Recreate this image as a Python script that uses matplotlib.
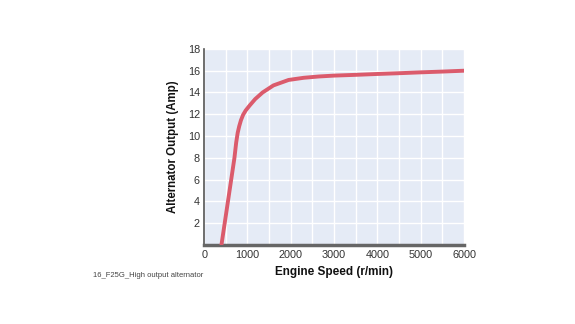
import matplotlib.pyplot as plt

# Alternator output vs engine speed
engine_speed = [400, 550, 700, 740, 775, 810, 850, 900, 960, 1050, 1180,
                1350, 1600, 1950, 2300, 2650, 3000, 3500, 4000, 4500, 5000,
                5500, 6000]
output_amp = [0.0, 4.0, 8.0, 9.4, 10.3, 10.9, 11.45, 11.95, 12.35, 12.8, 13.4,
              14.0, 14.65, 15.15, 15.35, 15.47, 15.55, 15.62, 15.7, 15.77,
              15.85, 15.92, 16.0]

x_ticks = [0, 1000, 2000, 3000, 4000, 5000, 6000]
y_ticks = [2, 4, 6, 8, 10, 12, 14, 16, 18]

plt.rcParams["font.family"] = ["Liberation Sans", "DejaVu Sans"]

fig = plt.figure(figsize=(5.75, 3.24), dpi=100)
ax = fig.add_axes([0.355, 0.244, 0.452, 0.605])
ax.set_facecolor("#e5ebf6")

ax.plot(engine_speed, output_amp, color="#db5b6c", linewidth=2.8,
        solid_joinstyle="round", zorder=3)

ax.set_xlim(0, 6000)
ax.set_ylim(0, 18)
ax.set_xticks(x_ticks)
ax.set_yticks(y_ticks)
ax.set_xticks(range(500, 6000, 1000), minor=True)
ax.grid(True, which="major", color="white", linewidth=1.0)
ax.xaxis.grid(True, which="minor", color="white", linewidth=1.0)
ax.set_axisbelow(True)
ax.tick_params(which="both", length=0)
ax.tick_params(axis="x", pad=4, labelsize=7.8, labelcolor="#333333")
ax.tick_params(axis="y", pad=3, labelsize=7.8, labelcolor="#333333")

for side in ("top", "right"):
    ax.spines[side].set_visible(False)
ax.spines["left"].set_color("#555555")
ax.spines["left"].set_linewidth(1.2)
ax.spines["bottom"].set_color("#666666")
ax.spines["bottom"].set_linewidth(2.5)

ax.set_xlabel("Engine Speed (r/min)", fontsize=8.5, fontweight="bold",
              color="#111111", labelpad=4)
ax.set_ylabel("Alternator Output (Amp)", fontsize=8.3, fontweight="bold",
              color="#111111", labelpad=6)

fig.text(0.162, 0.145, "16_F25G_High output alternator", fontsize=5.5,
         color="#444444")

fig.savefig("out.png", dpi=100)
